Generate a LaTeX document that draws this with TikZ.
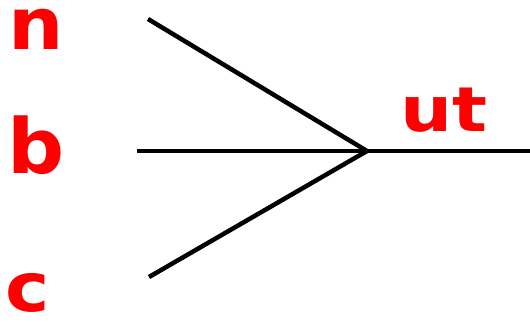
\documentclass[tikz,border=0pt]{standalone}
\usepackage{fontspec}
\setmainfont{DejaVu Sans}
\begin{document}
\begin{tikzpicture}[x=1pt,y=-1pt,
  lbl/.style={text=red,font=\bfseries,inner sep=0pt,anchor=center},
  wire/.style={draw=black,line width=4.5pt}]
\useasboundingbox (0,0) rectangle (530,322);
\node[lbl,xscale=1.08,font=\fontsize{72}{72}\selectfont\bfseries] (n) at (36.5,29) {n};
\node[lbl,xscale=1.05,font=\fontsize{76}{76}\selectfont\bfseries] (b) at (36,145.5) {b};
\node[lbl,xscale=1.1,font=\fontsize{68}{68}\selectfont\bfseries] (c) at (28,293) {c};
\node[lbl,xscale=1.18,font=\fontsize{62}{62}\selectfont\bfseries] (ut) at (444,110.5) {ut};
\coordinate (in1) at (148,19);
\coordinate (in2) at (137,151);
\coordinate (in3) at (149,277);
\coordinate (j) at (367,151);
\coordinate (out) at (530,151);
\draw[wire] (in1) -- (j);
\draw[wire] (in2) -- (j);
\draw[wire] (in3) -- (j);
\draw[wire] (j) -- (out);
\end{tikzpicture}
\end{document}
